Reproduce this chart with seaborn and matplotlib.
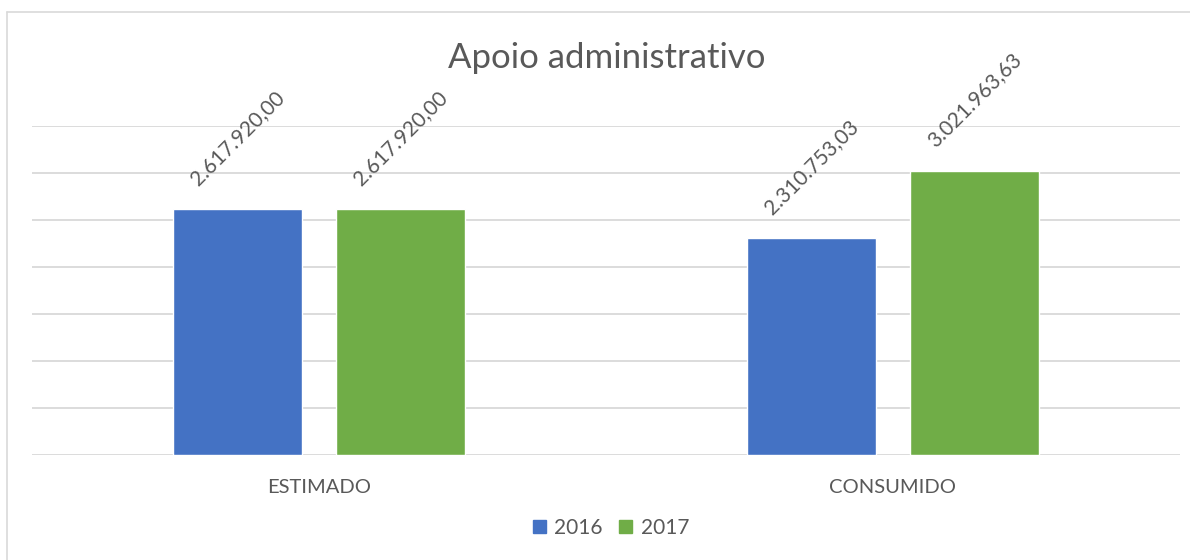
import pandas as pd
import seaborn as sns
import matplotlib.pyplot as plt
from matplotlib.lines import Line2D

categories = ['ESTIMADO', 'CONSUMIDO']
years = ['2016', '2017']
values_2016 = [2617920.00, 2310753.03]
values_2017 = [2617920.00, 3021963.63]
title = 'Apoio administrativo'

colors = ['#4472C4', '#70AD47']
text_color = '#595959'
grid_color = '#D9D9D9'


def br_format(v):
    # 2617920.0 -> 2.617.920,00
    s = f'{v:,.2f}'
    return s.replace(',', 'X').replace('.', ',').replace('X', '.')


df = pd.DataFrame({
    'categoria': categories * 2,
    'ano': [years[0]] * 2 + [years[1]] * 2,
    'valor': values_2016 + values_2017,
})

sns.set_style('white')
plt.rcParams['font.family'] = ['Lato', 'DejaVu Sans']

fig = plt.figure(figsize=(11.9, 5.6), dpi=100)
ax = fig.add_axes([32 / 1190, 1 - 455 / 560, (1180 - 32) / 1190, (455 - 126) / 560])

sns.barplot(data=df, x='categoria', y='valor', hue='ano', palette=colors,
            width=0.569, gap=0.212, saturation=1, ax=ax, legend=True)

ax.set_ylim(0, 3.5e6)
ax.set_xlim(-0.5, 1.5)
ax.set_yticks([i * 500000 for i in range(8)])
ax.set_yticklabels([])
ax.tick_params(axis='y', length=0)
ax.tick_params(axis='x', length=0, labelsize=14.5, labelcolor=text_color, pad=17)
ax.yaxis.grid(True, color=grid_color, linewidth=1.3)
ax.set_axisbelow(True)
for sp in ax.spines.values():
    sp.set_visible(False)
ax.set_xlabel('')
ax.set_ylabel('')
# gridlines stop a bit before the right edge of the axes
ax.set_xbound(-0.5, 1.5)

# data labels, rotated like excel
for cont in ax.containers:
    for bar in cont:
        h = bar.get_height()
        xc = bar.get_x() + bar.get_width() / 2
        ax.annotate(br_format(h), (xc, h), xytext=(0, 51), textcoords='offset points',
                    rotation=45, rotation_mode='anchor', ha='center', va='center',
                    fontsize=15, color=text_color, annotation_clip=False)

fig.text(607 / 1190, 1 - 58 / 560, title, ha='center', va='center',
         fontsize=25, color=text_color)

ax.legend_.remove()
handles = [plt.Rectangle((0, 0), 1, 1, color=c) for c in colors]
fig.legend(handles, years, loc='center', bbox_to_anchor=(611 / 1190, 1 - 528 / 560),
           ncol=2, frameon=False, fontsize=15, labelcolor=text_color,
           handlelength=0.62, handleheight=0.62, handletextpad=0.4, columnspacing=0.8)

# outer border of the chart area (cropped on right/bottom)
fig.add_artist(Line2D([7 / 1190, 7 / 1190], [0, 1 - 12 / 560], transform=fig.transFigure,
                      color=grid_color, linewidth=1.2))
fig.add_artist(Line2D([7 / 1190, 1], [1 - 12 / 560, 1 - 12 / 560], transform=fig.transFigure,
                      color=grid_color, linewidth=1.2))

fig.savefig('out.png', dpi=100)
